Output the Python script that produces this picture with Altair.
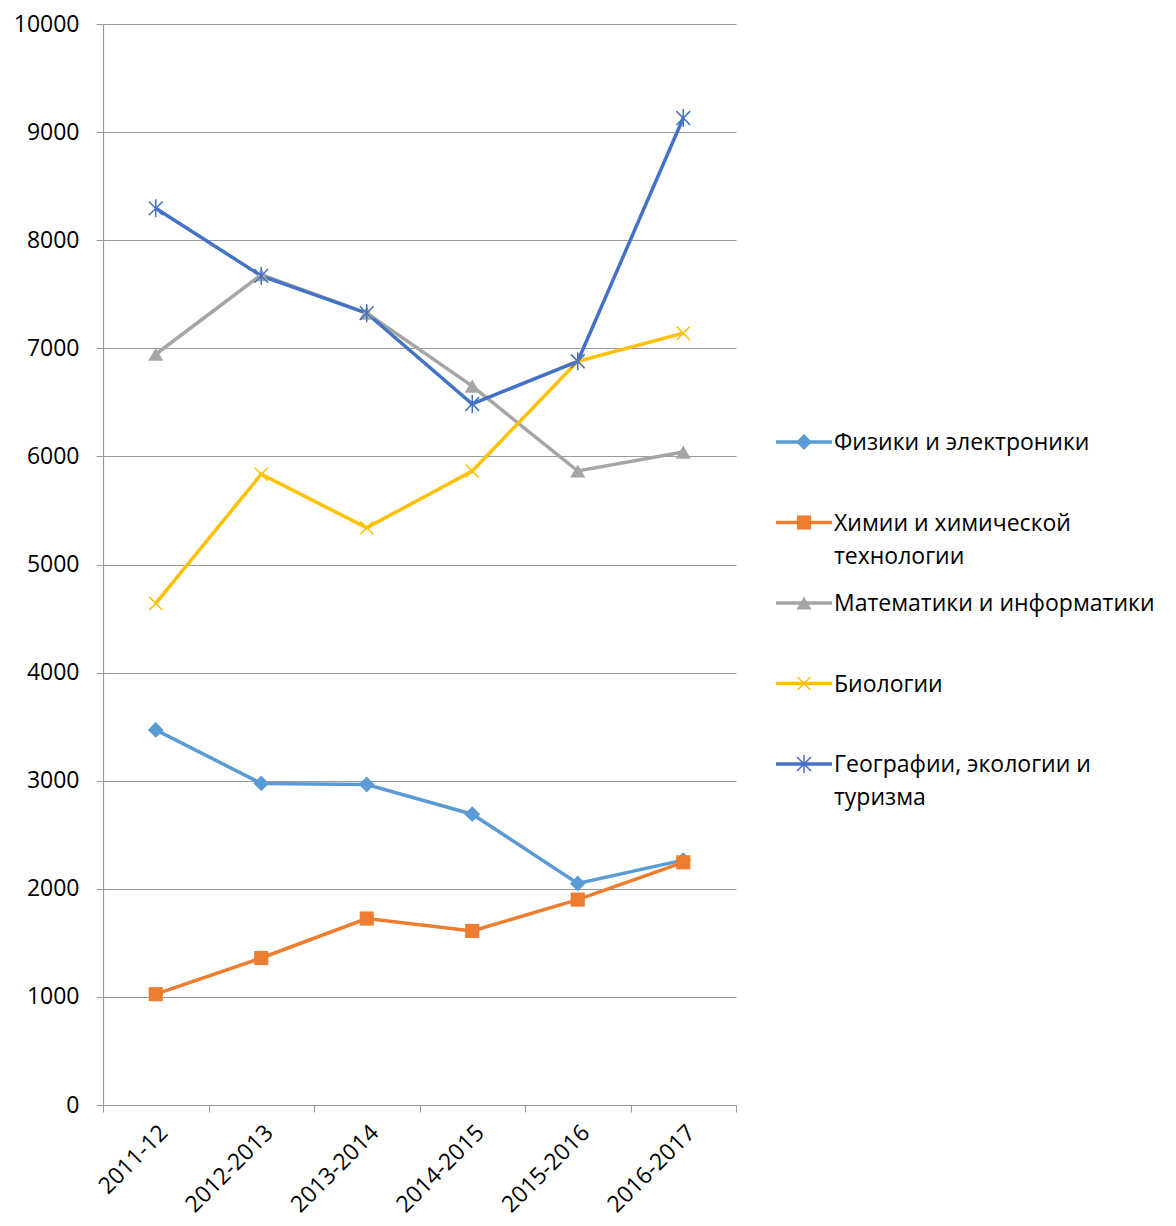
import altair as alt
import pandas as pd

years = ["2011-12", "2012-2013", "2013-2014", "2014-2015", "2015-2016", "2016-2017"]
series_names = [
    "Физики и электроники",
    "Химии и химической технологии",
    "Математики и информатики",
    "Биологии",
    "Географии, экологии и туризма",
]
legend_labels = [
    "Физики и электроники",
    "Химии и химической\nтехнологии",
    "Математики и информатики",
    "Биологии",
    "Географии, экологии и\nтуризма",
]
phys = [3470, 2975, 2965, 2690, 2050, 2265]
chem = [1025, 1360, 1725, 1610, 1900, 2245]
math_ = [6945, 7680, 7325, 6650, 5865, 6040]
bio = [4640, 5835, 5340, 5865, 6880, 7140]
geo = [8295, 7670, 7325, 6485, 6880, 9130]
y_ticks = list(range(0, 10001, 1000))

values = [phys, chem, math_, bio, geo]
colors = ["#5B9BD5", "#ED7D31", "#A5A5A5", "#FFC000", "#4472C4"]
XPATH = "M-1,-1L1,1M1,-1L-1,1"
ASTER = "M-1,-1L1,1M1,-1L-1,1M0,-1.3L0,1.3"
shapes = ["diamond", "square", "triangle-up", XPATH, ASTER]
filled = [True, True, True, False, False]
sizes = [250, 200, 230, 170, 190]

FONT = "Open Sans"
GRID = "#9A9A9A"

rows = []
for name, vals in zip(series_names, values):
    for yr, v in zip(years, vals):
        rows.append({"series": name, "year": yr, "value": v})
df = pd.DataFrame(rows)

xenc = alt.X(
    "year:N",
    sort=years,
    scale=alt.Scale(type="band", domain=years, paddingInner=0, paddingOuter=0),
    axis=alt.Axis(
        title=None, labelAngle=-45, labelFontSize=23, labelFont=FONT, labelColor="#000000",
        tickBand="extent", tickSize=7, tickColor=GRID, domainColor=GRID, domainWidth=1.2,
        labelPadding=9, grid=False, labelAlign="right", labelBaseline="top",
    ),
)
yenc = alt.Y(
    "value:Q",
    scale=alt.Scale(domain=[0, 10000], nice=False),
    axis=alt.Axis(
        title=None, values=y_ticks, format="d", labelFontSize=23, labelFont=FONT,
        labelColor="#000000", tickSize=7, tickColor=GRID, domainColor=GRID,
        gridColor=GRID, grid=True, gridWidth=1.2, domainWidth=1.2, labelPadding=17,
    ),
)

layers = []
for i, name in enumerate(series_names):
    sub = alt.Chart(df).transform_filter(alt.datum.series == name)
    layers.append(sub.mark_line(color=colors[i], strokeWidth=3.5).encode(x=xenc, y=yenc))
for i, name in enumerate(series_names):
    sub = alt.Chart(df).transform_filter(alt.datum.series == name)
    if filled[i]:
        pm = sub.mark_point(shape=shapes[i], filled=True, fill=colors[i], size=sizes[i], opacity=1, strokeWidth=0)
    else:
        pm = sub.mark_point(shape=shapes[i], filled=False, stroke=colors[i], size=sizes[i], opacity=1, strokeWidth=1.5)
    layers.append(pm.encode(x=xenc, y=yenc))

main = alt.layer(*layers).properties(width=633, height=1081)

# legend
ldf = pd.DataFrame({"series": series_names, "label": legend_labels})
lscale = alt.Scale(type="point", domain=series_names, range=[418, 740], padding=0)
ly = alt.Y("series:N", scale=lscale, axis=None)
leg_layers = []
for i, name in enumerate(series_names):
    sub = alt.Chart(ldf).transform_filter(alt.datum.series == name)
    leg_layers.append(sub.mark_rule(color=colors[i], strokeWidth=3.5).encode(
        y=ly, x=alt.value(0), x2=alt.value(56)))
    if filled[i]:
        pm = sub.mark_point(shape=shapes[i], filled=True, fill=colors[i], size=sizes[i], opacity=1, strokeWidth=0)
    else:
        pm = sub.mark_point(shape=shapes[i], filled=False, stroke=colors[i], size=sizes[i], opacity=1, strokeWidth=1.5)
    leg_layers.append(pm.encode(y=ly, x=alt.value(28)))
leg_layers.append(
    alt.Chart(ldf).mark_text(
        align="left", baseline="alphabetic", dy=8, font=FONT, fontSize=23,
        lineBreak="\n", lineHeight=33, color="#000000",
    ).encode(y=ly, x=alt.value(58), text="label:N")
)
legend = alt.layer(*leg_layers).properties(width=370, height=1081)

chart = (
    alt.hconcat(main, legend, spacing=37)
    .properties(padding={"left": 5, "top": 5, "right": 5, "bottom": 5})
    .configure(font=FONT)
    .configure_view(stroke=None)
)
chart.save("out.html", embed_options={"renderer": "svg", "actions": False})
